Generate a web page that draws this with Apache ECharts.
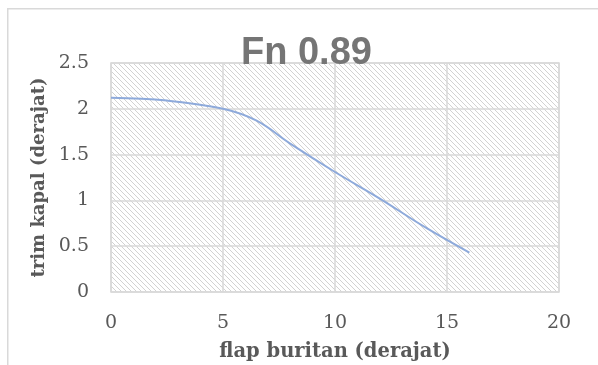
<!DOCTYPE html>
<html>
<head>
<meta charset="utf-8">
<script src="https://cdn.jsdelivr.net/npm/echarts@6/dist/echarts.min.js"></script>
<style>
html,body{margin:0;padding:0;background:#fff;}
#c{width:598px;height:365px;}
</style>
</head>
<body>
<div id="c"></div>
<script>
// Data
var flapAngles = [0, 2.5, 5, 6.5, 8, 10, 12, 14, 16];
var trimValues = [2.12, 2.09, 2.0, 1.87, 1.62, 1.31, 1.02, 0.71, 0.43];
var titleText = 'Fn 0.89';
var xAxisName = 'flap buritan (derajat)';
var yAxisName = 'trim kapal (derajat)';

var points = flapAngles.map(function (x, i) { return [x, trimValues[i]]; });

// diagonal hatch pattern
var tile = document.createElement('canvas');
tile.width = 5; tile.height = 5;
var ctx = tile.getContext('2d');
ctx.fillStyle = '#fff';
ctx.fillRect(0, 0, 5, 5);
ctx.fillStyle = '#d2d2d2';
for (var i = 0; i < 5; i++) { ctx.fillRect(i, i, 1, 1); }

var chart = echarts.init(document.getElementById('c'), null, {renderer: 'canvas'});
chart.setOption({
  animation: false,
  backgroundColor: '#fff',
  graphic: [{
    type: 'rect', left: 7, top: 8, z: -10,
    shape: {width: 700, height: 500},
    style: {fill: 'transparent', stroke: '#d9d9d9', lineWidth: 1.5}
  }],
  title: {
    text: titleText,
    left: 236, top: 30,
    textStyle: {fontFamily: 'Liberation Sans', fontWeight: 'bold', fontSize: 38, color: '#757575'}
  },
  grid: {
    left: 111, top: 63, right: 39, bottom: 73,
    outerBoundsMode: 'none',
    containLabel: false,
    show: true,
    backgroundColor: {image: tile, repeat: 'repeat'},
    borderColor: '#d9d9d9', borderWidth: 1.5
  },
  xAxis: {
    type: 'value', min: 0, max: 20, interval: 5,
    name: xAxisName, nameLocation: 'middle', nameGap: 50,
    nameTextStyle: {fontFamily: 'DejaVu Serif', fontWeight: 'bold', fontSize: 19.5, color: '#595959'},
    axisLine: {show: false}, axisTick: {show: false},
    axisLabel: {fontFamily: 'DejaVu Serif', fontSize: 19, color: '#595959', margin: 22},
    splitLine: {show: true, lineStyle: {color: '#d9d9d9', width: 1.5}}
  },
  yAxis: {
    type: 'value', min: 0, max: 2.5, interval: 0.5,
    name: yAxisName, nameLocation: 'middle', nameGap: 63,
    nameTextStyle: {fontFamily: 'DejaVu Serif', fontWeight: 'bold', fontSize: 18, color: '#595959'},
    axisLine: {show: false}, axisTick: {show: false},
    axisLabel: {fontFamily: 'DejaVu Serif', fontSize: 19, color: '#595959', margin: 22},
    splitLine: {show: true, lineStyle: {color: '#d9d9d9', width: 1.5}}
  },
  series: [{
    type: 'line',
    data: points,
    smooth: 0.4,
    showSymbol: false,
    lineStyle: {color: '#8eaadb', width: 2}
  }]
});
</script>
</body>
</html>
